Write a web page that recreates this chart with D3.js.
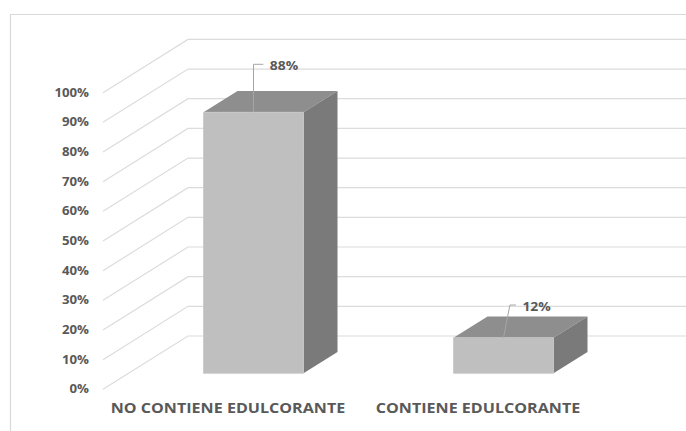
<!DOCTYPE html>
<html><head><meta charset="utf-8">
<script src="https://cdn.jsdelivr.net/npm/d3@7/dist/d3.min.js"></script>
<style>
html,body{margin:0;padding:0;background:#fff;}
svg{display:block;}
text{font-family:"Open Sans",sans-serif;font-weight:bold;fill:#595959;}
</style></head>
<body>
<svg id="c" width="686" height="431"></svg>
<script>
// ---- data ----
const categories = ["NO CONTIENE EDULCORANTE", "CONTIENE EDULCORANTE"];
const values = [0.88, 0.12];
const valueLabels = ["88%", "12%"];
const tickValues = [0,0.1,0.2,0.3,0.4,0.5,0.6,0.7,0.8,0.9,1.0];

// ---- layout ----
const W = 686, H = 431;
const origin = {x:103, y:389.3};     // front-left floor corner
const depth = {x:85, y:-53.3};       // full depth vector
const floorW = 500, plotH = 296.6;
const barD0 = 0.3, barD1 = 0.7;
const leaders = [ [[0,-48],[9.8,-48]], [[6.4,-32.7],[12.4,-32.7]] ];
const stretch = 1.15;

const svg = d3.select("#c");
const y = d3.scaleLinear().domain([0,1]).range([0,plotH]);
const x = d3.scaleBand().domain(categories).range([0,floorW]).paddingInner(0.6).paddingOuter(0.3);
const xc = d3.scaleBand().domain(categories).range([0,floorW]);
const P = (px,h,d)=>[origin.x+px+d*depth.x, origin.y-h+d*depth.y];

// frame
svg.append("path").attr("d",`M10.5,${H}V14.5H${W}`).attr("fill","none").attr("stroke","#d9d9d9").attr("stroke-width",1.2);

// gridlines
const line = d3.line();
svg.append("g").selectAll("path").data(tickValues).join("path")
  .attr("d",t=>line([P(0,y(t),0),P(0,y(t),1),P(floorW,y(t),1)]))
  .attr("fill","none").attr("stroke","#dcdcdc").attr("stroke-width",1.2);

// y tick labels
svg.append("g").selectAll("text").data(tickValues).join("text")
  .attr("text-anchor","end").attr("font-size",11.5)
  .attr("transform",t=>{const p=P(0,y(t),0);return `translate(${p[0]-14},${p[1]+4}) scale(${stretch},1)`;})
  .text(d3.format(".0%"));

// bars
const bars = svg.append("g").selectAll("g").data(values).join("g");
bars.each(function(v,i){
  const g=d3.select(this);
  const x0=x(categories[i]), x1=x0+x.bandwidth(), h=y(v);
  g.append("path").attr("d",line([P(x0,h,barD0),P(x1,h,barD0),P(x1,h,barD1),P(x0,h,barD1)])+"Z").attr("fill","#8e8e8e");
  g.append("path").attr("d",line([P(x1,0,barD0),P(x1,0,barD1),P(x1,h,barD1),P(x1,h,barD0)])+"Z").attr("fill","#7a7a7a");
  g.append("path").attr("d",line([P(x0,0,barD0),P(x1,0,barD0),P(x1,h,barD0),P(x0,h,barD0)])+"Z").attr("fill","#bfbfbf").attr("stroke","#c6c6c6").attr("stroke-width",0.8);
  // leader + label
  const top=P((x0+x1)/2,h,barD0);
  const L=leaders[i];
  g.append("path").attr("d",line([top,[top[0]+L[0][0],top[1]+L[0][1]],[top[0]+L[1][0],top[1]+L[1][1]]]))
    .attr("fill","none").attr("stroke","#a6a6a6").attr("stroke-width",1);
  g.append("text").attr("font-size",12.1)
    .attr("transform",`translate(${top[0]+L[1][0]+6.5},${top[1]+L[1][1]+5.8}) scale(${stretch},1)`)
    .text(valueLabels[i]);
});

// category labels
svg.append("g").selectAll("text").data(categories).join("text")
  .attr("text-anchor","middle").attr("font-size",14)
  .attr("transform",d=>{const p=P(xc(d)+xc.bandwidth()/2,0,0);return `translate(${p[0]},${p[1]+24}) scale(${stretch},1)`;})
  .text(d=>d);
</script>
</body></html>
